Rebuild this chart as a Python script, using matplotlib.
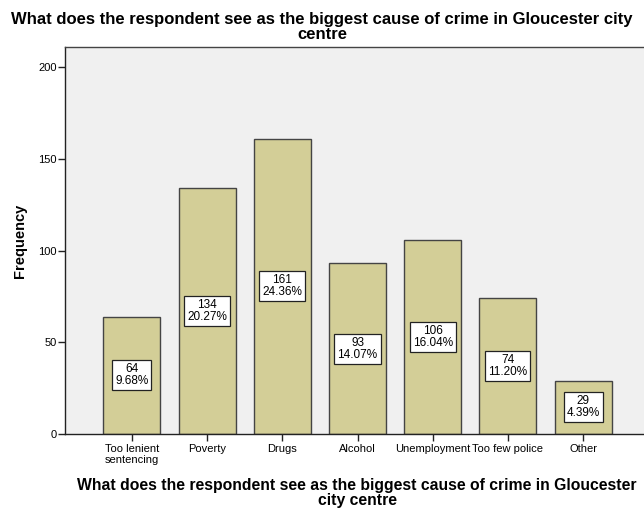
import matplotlib
matplotlib.use("Agg")
import matplotlib.pyplot as plt

categories = ["Too lenient\nsentencing", "Poverty", "Drugs", "Alcohol",
              "Unemployment", "Too few police", "Other"]
counts = [64, 134, 161, 93, 106, 74, 29]
percents = ["9.68%", "20.27%", "24.36%", "14.07%", "16.04%", "11.20%", "4.39%"]
yticks = [0, 50, 100, 150, 200]

plt.rcParams['font.family'] = ['Liberation Sans', 'DejaVu Sans']

fig = plt.figure(figsize=(6.44, 5.09), dpi=100)
W, H = 644, 509
ax = fig.add_axes([65 / W, 1 - 434 / H, (650 - 65) / W, (434 - 47) / H])
ax.set_facecolor("#F0F0F0")

x = list(range(len(categories)))
ax.bar(x, counts, width=0.76, color="#D3CE97", edgecolor="#444444", linewidth=1.0, zorder=2)
for xi, c, p in zip(x, counts, percents):
    ax.text(xi, c / 2, f"{c}\n{p}", ha="center", va="center", fontsize=8.5,
            linespacing=1.0, zorder=3,
            bbox=dict(boxstyle="square,pad=0.25", fc="white", ec="#222222", lw=0.9))

ax.set_xlim(-0.89, 6.89)
ax.set_ylim(0, 211)
ax.set_yticks(yticks)
ax.set_xticks(x)
ax.set_xticklabels(categories, fontsize=8, linespacing=1.15)
ax.tick_params(axis="y", labelsize=8, length=5, width=1, color="#222222", pad=1)
ax.tick_params(axis="x", length=5, width=1, color="#222222", pad=2)
for s in ax.spines.values():
    s.set_color("#444444")
    s.set_linewidth(1.0)
ax.spines["left"].set_color("#222222")
ax.spines["bottom"].set_color("#222222")

ax.set_ylabel("Frequency", fontsize=10.5, fontweight="bold")
ax.yaxis.set_label_coords(-(65 - 27) / 585, 0.5)
fig.text(357 / W, 1 - 493 / H,
         "What does the respondent see as the biggest cause of crime in Gloucester\ncity centre",
         ha="center", va="center", fontsize=11.3, fontweight="bold", linespacing=0.95)
fig.text(0.5, 1 - 27 / H,
         "What does the respondent see as the biggest cause of crime in Gloucester city\ncentre",
         ha="center", va="center", fontsize=12, fontweight="bold", linespacing=1.0)

fig.savefig("out.png", dpi=100)
